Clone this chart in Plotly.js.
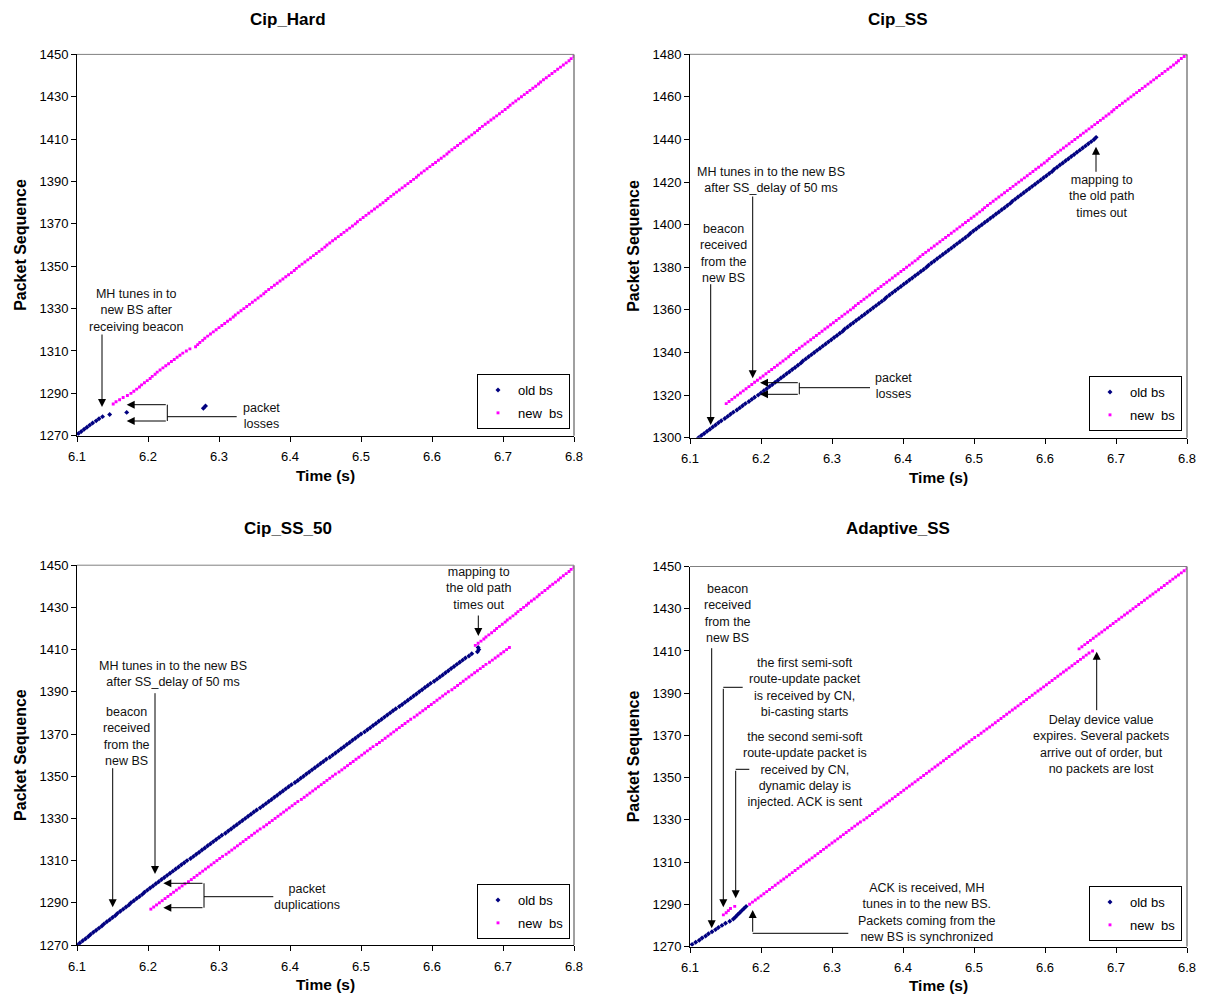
<!DOCTYPE html>
<html>
<head>
<meta charset="utf-8">
<script src="https://cdn.plot.ly/plotly-3.0.1.min.js"></script>
<style>html,body{margin:0;padding:0;background:#fff;}#chart{width:1210px;height:996px;}</style>
</head>
<body>
<div id="chart"></div>
<script>
// ---------------- DATA ----------------
const seriesNames = ['old bs', 'new\u00A0 bs'];
const chartTitles = ['Cip_Hard', 'Cip_SS', 'Cip_SS_50', 'Adaptive_SS'];
const xTitle = 'Time (s)';
const yTitle = 'Packet Sequence';

// Cip_Hard
const hardOldTime = [6.102,6.106,6.110,6.114,6.118,6.122,6.127,6.131,6.136,6.146,6.170,6.278,6.281];
const hardOldSeq  = [1271,1272,1273,1274,1275,1276,1277,1278,1279,1280,1281,1283,1284];
const hardNewTime = [
6.151,6.155,6.160,6.165,6.171,6.176,6.180,6.184,6.188,6.191,
6.195,6.199,6.203,6.206,6.210,6.213,6.217,6.221,6.225,6.229,
6.233,6.237,6.241,6.245,6.249,6.254,6.259,6.267,6.270,6.273,
6.277,6.280,6.284,6.288,6.292,6.296,6.300,6.304,6.308,6.312,
6.316,6.320,6.323,6.327,6.331,6.335,6.339,6.343,6.347,6.351,
6.355,6.359,6.363,6.366,6.370,6.374,6.378,6.382,6.386,6.390,
6.394,6.398,6.402,6.406,6.409,6.413,6.417,6.421,6.425,6.429,
6.433,6.437,6.441,6.445,6.449,6.452,6.456,6.460,6.464,6.468,
6.472,6.476,6.480,6.484,6.488,6.492,6.495,6.499,6.503,6.507,
6.511,6.515,6.519,6.523,6.527,6.531,6.535,6.538,6.542,6.546,
6.550,6.554,6.558,6.562,6.566,6.570,6.574,6.578,6.581,6.585,
6.589,6.593,6.597,6.601,6.605,6.609,6.613,6.617,6.621,6.624,
6.628,6.632,6.636,6.640,6.644,6.648,6.652,6.656,6.660,6.664,
6.667,6.671,6.675,6.679,6.683,6.687,6.691,6.695,6.699,6.703,
6.707,6.710,6.714,6.718,6.722,6.726,6.730,6.734,6.738,6.742,
6.746,6.750,6.753,6.757,6.761,6.765,6.769,6.773,6.777,6.781,
6.785,6.789,6.793,6.796,6.800];
const hardNewSeq = [
1285,1286,1287,1288,1289,1290,1291,1292,1293,1294,
1295,1296,1297,1298,1299,1300,1301,1302,1303,1304,
1305,1306,1307,1308,1309,1310,1311,1312,1313,1314,
1315,1316,1317,1318,1319,1320,1321,1322,1323,1324,
1325,1326,1327,1328,1329,1330,1331,1332,1333,1334,
1335,1336,1337,1338,1339,1340,1341,1342,1343,1344,
1345,1346,1347,1348,1349,1350,1351,1352,1353,1354,
1355,1356,1357,1358,1359,1360,1361,1362,1363,1364,
1365,1366,1367,1368,1369,1370,1371,1372,1373,1374,
1375,1376,1377,1378,1379,1380,1381,1382,1383,1384,
1385,1386,1387,1388,1389,1390,1391,1392,1393,1394,
1395,1396,1397,1398,1399,1400,1401,1402,1403,1404,
1405,1406,1407,1408,1409,1410,1411,1412,1413,1414,
1415,1416,1417,1418,1419,1420,1421,1422,1423,1424,
1425,1426,1427,1428,1429,1430,1431,1432,1433,1434,
1435,1436,1437,1438,1439,1440,1441,1442,1443,1444,
1445,1446,1447,1448,1449];

// Cip_SS
const ssOldTime = [
6.112,6.116,6.120,6.124,6.128,6.132,6.136,6.140,6.144,6.149,
6.153,6.157,6.161,6.166,6.170,6.174,6.178,6.183,6.187,6.191,
6.196,6.200,6.204,6.208,6.212,6.216,6.220,6.224,6.228,6.232,
6.236,6.240,6.244,6.248,6.252,6.256,6.259,6.263,6.267,6.271,
6.275,6.279,6.283,6.287,6.291,6.295,6.299,6.303,6.307,6.311,
6.315,6.318,6.322,6.326,6.330,6.334,6.338,6.342,6.346,6.350,
6.354,6.358,6.362,6.366,6.370,6.374,6.377,6.381,6.385,6.389,
6.393,6.397,6.401,6.405,6.409,6.413,6.417,6.421,6.425,6.429,
6.433,6.436,6.440,6.444,6.448,6.452,6.456,6.460,6.464,6.468,
6.472,6.476,6.480,6.484,6.488,6.492,6.495,6.499,6.503,6.507,
6.511,6.515,6.519,6.523,6.527,6.531,6.535,6.539,6.543,6.547,
6.551,6.554,6.558,6.562,6.566,6.570,6.574,6.578,6.582,6.586,
6.590,6.594,6.598,6.602,6.606,6.610,6.613,6.617,6.621,6.625,
6.629,6.633,6.637,6.641,6.645,6.649,6.653,6.657,6.661,6.665,
6.669,6.672];
const ssOldSeq = [
1300,1301,1302,1303,1304,1305,1306,1307,1308,1309,
1310,1311,1312,1313,1314,1315,1316,1317,1318,1319,
1320,1321,1322,1323,1324,1325,1326,1327,1328,1329,
1330,1331,1332,1333,1334,1335,1336,1337,1338,1339,
1340,1341,1342,1343,1344,1345,1346,1347,1348,1349,
1350,1351,1352,1353,1354,1355,1356,1357,1358,1359,
1360,1361,1362,1363,1364,1365,1366,1367,1368,1369,
1370,1371,1372,1373,1374,1375,1376,1377,1378,1379,
1380,1381,1382,1383,1384,1385,1386,1387,1388,1389,
1390,1391,1392,1393,1394,1395,1396,1397,1398,1399,
1400,1401,1402,1403,1404,1405,1406,1407,1408,1409,
1410,1411,1412,1413,1414,1415,1416,1417,1418,1419,
1420,1421,1422,1423,1424,1425,1426,1427,1428,1429,
1430,1431,1432,1433,1434,1435,1436,1437,1438,1439,
1440,1441];
const ssNewTime = [
6.151,6.155,6.159,6.163,6.167,6.171,6.175,6.179,6.183,6.187,
6.191,6.195,6.199,6.203,6.207,6.211,6.215,6.219,6.223,6.227,
6.231,6.235,6.239,6.242,6.246,6.250,6.254,6.258,6.262,6.266,
6.270,6.274,6.278,6.282,6.286,6.290,6.294,6.298,6.302,6.306,
6.310,6.314,6.318,6.322,6.326,6.330,6.333,6.337,6.341,6.345,
6.349,6.353,6.357,6.361,6.365,6.369,6.373,6.377,6.381,6.385,
6.389,6.393,6.397,6.401,6.405,6.409,6.413,6.417,6.421,6.424,
6.428,6.432,6.436,6.440,6.444,6.448,6.452,6.456,6.460,6.464,
6.468,6.472,6.476,6.480,6.484,6.488,6.492,6.496,6.500,6.504,
6.508,6.512,6.515,6.519,6.523,6.527,6.531,6.535,6.539,6.543,
6.547,6.551,6.555,6.559,6.563,6.567,6.571,6.575,6.579,6.583,
6.587,6.591,6.595,6.599,6.603,6.606,6.610,6.614,6.618,6.622,
6.626,6.630,6.634,6.638,6.642,6.646,6.650,6.654,6.658,6.662,
6.666,6.670,6.674,6.678,6.682,6.686,6.690,6.694,6.697,6.701,
6.705,6.709,6.713,6.717,6.721,6.725,6.729,6.733,6.737,6.741,
6.745,6.749,6.753,6.757,6.761,6.765,6.769,6.773,6.777,6.781,
6.785,6.788,6.792,6.796,6.800];
const ssNewSeq = [
1316,1317,1318,1319,1320,1321,1322,1323,1324,1325,
1326,1327,1328,1329,1330,1331,1332,1333,1334,1335,
1336,1337,1338,1339,1340,1341,1342,1343,1344,1345,
1346,1347,1348,1349,1350,1351,1352,1353,1354,1355,
1356,1357,1358,1359,1360,1361,1362,1363,1364,1365,
1366,1367,1368,1369,1370,1371,1372,1373,1374,1375,
1376,1377,1378,1379,1380,1381,1382,1383,1384,1385,
1386,1387,1388,1389,1390,1391,1392,1393,1394,1395,
1396,1397,1398,1399,1400,1401,1402,1403,1404,1405,
1406,1407,1408,1409,1410,1411,1412,1413,1414,1415,
1416,1417,1418,1419,1420,1421,1422,1423,1424,1425,
1426,1427,1428,1429,1430,1431,1432,1433,1434,1435,
1436,1437,1438,1439,1440,1441,1442,1443,1444,1445,
1446,1447,1448,1449,1450,1451,1452,1453,1454,1455,
1456,1457,1458,1459,1460,1461,1462,1463,1464,1465,
1466,1467,1468,1469,1470,1471,1472,1473,1474,1475,
1476,1477,1478,1479,1480];

// Cip_SS_50
const ss50OldTime = [
6.100,6.104,6.108,6.112,6.116,6.119,6.123,6.127,6.131,6.135,
6.138,6.142,6.146,6.150,6.154,6.157,6.161,6.165,6.169,6.173,
6.176,6.180,6.184,6.188,6.192,6.195,6.199,6.203,6.207,6.211,
6.215,6.219,6.223,6.227,6.231,6.235,6.239,6.243,6.247,6.251,
6.255,6.260,6.264,6.268,6.272,6.276,6.280,6.284,6.288,6.292,
6.296,6.300,6.304,6.309,6.313,6.317,6.321,6.325,6.329,6.333,
6.337,6.341,6.345,6.349,6.353,6.358,6.362,6.366,6.370,6.374,
6.378,6.382,6.386,6.390,6.394,6.398,6.402,6.407,6.411,6.415,
6.419,6.423,6.427,6.431,6.435,6.439,6.443,6.447,6.451,6.456,
6.460,6.464,6.468,6.472,6.476,6.480,6.484,6.488,6.492,6.496,
6.500,6.505,6.509,6.513,6.517,6.521,6.525,6.529,6.533,6.537,
6.541,6.545,6.549,6.554,6.558,6.562,6.566,6.570,6.574,6.578,
6.582,6.586,6.590,6.594,6.598,6.603,6.607,6.611,6.615,6.619,
6.623,6.627,6.631,6.635,6.639,6.643,6.647,6.652,6.656,6.664,
6.666,6.665];
const ss50OldSeq = [
1270,1271,1272,1273,1274,1275,1276,1277,1278,1279,
1280,1281,1282,1283,1284,1285,1286,1287,1288,1289,
1290,1291,1292,1293,1294,1295,1296,1297,1298,1299,
1300,1301,1302,1303,1304,1305,1306,1307,1308,1309,
1310,1311,1312,1313,1314,1315,1316,1317,1318,1319,
1320,1321,1322,1323,1324,1325,1326,1327,1328,1329,
1330,1331,1332,1333,1334,1335,1336,1337,1338,1339,
1340,1341,1342,1343,1344,1345,1346,1347,1348,1349,
1350,1351,1352,1353,1354,1355,1356,1357,1358,1359,
1360,1361,1362,1363,1364,1365,1366,1367,1368,1369,
1370,1371,1372,1373,1374,1375,1376,1377,1378,1379,
1380,1381,1382,1383,1384,1385,1386,1387,1388,1389,
1390,1391,1392,1393,1394,1395,1396,1397,1398,1399,
1400,1401,1402,1403,1404,1405,1406,1407,1408,1409,
1410,1411];
const ss50NewTime = [
6.204,6.208,6.212,6.216,6.220,6.224,6.228,6.232,6.236,6.240,
6.244,6.248,6.252,6.257,6.261,6.265,6.269,6.273,6.277,6.281,
6.285,6.289,6.293,6.297,6.301,6.305,6.310,6.314,6.318,6.322,
6.326,6.330,6.334,6.338,6.342,6.346,6.350,6.354,6.358,6.363,
6.367,6.371,6.375,6.379,6.383,6.387,6.391,6.395,6.399,6.403,
6.407,6.411,6.416,6.420,6.424,6.428,6.432,6.436,6.440,6.444,
6.448,6.452,6.456,6.460,6.464,6.469,6.473,6.477,6.481,6.485,
6.489,6.493,6.497,6.501,6.505,6.509,6.513,6.517,6.522,6.526,
6.530,6.534,6.538,6.542,6.546,6.550,6.554,6.558,6.562,6.566,
6.570,6.575,6.579,6.583,6.587,6.591,6.595,6.599,6.603,6.607,
6.611,6.615,6.619,6.623,6.628,6.632,6.636,6.640,6.644,6.648,
6.652,6.656,6.660,6.664,6.668,6.672,6.676,6.681,6.685,6.689,
6.693,6.697,6.701,6.705,6.709,
6.661,6.665,6.669,6.673,6.676,6.680,6.684,6.688,6.691,6.695,
6.699,6.703,6.706,6.710,6.714,6.718,6.721,6.725,6.729,6.733,
6.736,6.740,6.744,6.748,6.751,6.755,6.759,6.763,6.766,6.770,
6.774,6.778,6.781,6.785,6.789,6.793,6.796,6.800];
const ss50NewSeq = [
1287,1288,1289,1290,1291,1292,1293,1294,1295,1296,
1297,1298,1299,1300,1301,1302,1303,1304,1305,1306,
1307,1308,1309,1310,1311,1312,1313,1314,1315,1316,
1317,1318,1319,1320,1321,1322,1323,1324,1325,1326,
1327,1328,1329,1330,1331,1332,1333,1334,1335,1336,
1337,1338,1339,1340,1341,1342,1343,1344,1345,1346,
1347,1348,1349,1350,1351,1352,1353,1354,1355,1356,
1357,1358,1359,1360,1361,1362,1363,1364,1365,1366,
1367,1368,1369,1370,1371,1372,1373,1374,1375,1376,
1377,1378,1379,1380,1381,1382,1383,1384,1385,1386,
1387,1388,1389,1390,1391,1392,1393,1394,1395,1396,
1397,1398,1399,1400,1401,1402,1403,1404,1405,1406,
1407,1408,1409,1410,1411,
1412,1413,1414,1415,1416,1417,1418,1419,1420,1421,
1422,1423,1424,1425,1426,1427,1428,1429,1430,1431,
1432,1433,1434,1435,1436,1437,1438,1439,1440,1441,
1442,1443,1444,1445,1446,1447,1448,1449];

// Adaptive_SS
const adOldTime = [6.103,6.108,6.113,6.117,6.122,6.126,6.131,6.136,6.140,6.145,
6.150,6.156,6.161,6.164,6.167,6.170,6.173,6.176,6.179];
const adOldSeq = [1271,1272,1273,1274,1275,1276,1277,1278,1279,1280,
1281,1282,1283,1284,1285,1286,1287,1288,1289];
const adNewTime = [
6.147,6.151,6.154,6.157,6.163,6.184,6.188,6.192,6.196,6.200,
6.204,6.208,6.212,6.216,6.220,6.224,6.228,6.232,6.236,6.240,
6.244,6.248,6.252,6.256,6.260,6.264,6.268,6.272,6.276,6.280,
6.284,6.288,6.292,6.296,6.300,6.304,6.308,6.312,6.316,6.320,
6.324,6.328,6.332,6.336,6.340,6.345,6.349,6.353,6.357,6.361,
6.365,6.369,6.373,6.377,6.381,6.385,6.389,6.393,6.397,6.401,
6.405,6.409,6.413,6.417,6.421,6.425,6.429,6.433,6.437,6.441,
6.445,6.449,6.453,6.457,6.461,6.465,6.469,6.473,6.477,6.481,
6.485,6.489,6.493,6.497,6.501,6.506,6.510,6.514,6.518,6.522,
6.526,6.530,6.534,6.538,6.542,6.546,6.550,6.554,6.558,6.562,
6.566,6.570,6.574,6.578,6.582,6.586,6.590,6.594,6.598,6.602,
6.606,6.610,6.614,6.618,6.622,6.626,6.630,6.634,6.638,6.642,
6.646,6.650,6.654,6.658,6.662,6.667,
6.648,6.652,6.656,6.660,6.664,6.668,6.672,6.676,6.680,6.684,
6.688,6.692,6.696,6.700,6.704,6.708,6.712,6.716,6.720,6.724,
6.728,6.732,6.736,6.740,6.744,6.748,6.752,6.756,6.760,6.764,
6.768,6.772,6.776,6.780,6.784,6.788,6.792,6.796,6.800];
const adNewSeq = [
1285,1286,1287,1288,1289,1290,1291,1292,1293,1294,
1295,1296,1297,1298,1299,1300,1301,1302,1303,1304,
1305,1306,1307,1308,1309,1310,1311,1312,1313,1314,
1315,1316,1317,1318,1319,1320,1321,1322,1323,1324,
1325,1326,1327,1328,1329,1330,1331,1332,1333,1334,
1335,1336,1337,1338,1339,1340,1341,1342,1343,1344,
1345,1346,1347,1348,1349,1350,1351,1352,1353,1354,
1355,1356,1357,1358,1359,1360,1361,1362,1363,1364,
1365,1366,1367,1368,1369,1370,1371,1372,1373,1374,
1375,1376,1377,1378,1379,1380,1381,1382,1383,1384,
1385,1386,1387,1388,1389,1390,1391,1392,1393,1394,
1395,1396,1397,1398,1399,1400,1401,1402,1403,1404,
1405,1406,1407,1408,1409,1410,
1411,1412,1413,1414,1415,1416,1417,1418,1419,1420,
1421,1422,1423,1424,1425,1426,1427,1428,1429,1430,
1431,1432,1433,1434,1435,1436,1437,1438,1439,1440,
1441,1442,1443,1444,1445,1446,1447,1448,1449];

const yRanges = [[1270,1450],[1300,1480],[1270,1450],[1270,1450]];
const xRange = [6.1, 6.8];

// ---------------- LAYOUT HELPERS ----------------
const W = 1210, H = 996;
const FONT = 'Arial, "Liberation Sans", sans-serif';
const OLD_COLOR = '#000080', NEW_COLOR = '#FF00FF';
const px = v => v / W;
const py = v => 1 - v / H;

// plot areas in pixels: [left, right, top, bottom]
const areas = [[77, 574, 54.4, 435.7], [690, 1187, 54.3, 437.7], [77, 574, 565.2, 945], [690, 1187, 566.5, 946.5]];
const legendPos = [[570, 429], [1182, 431], [570, 939], [1182, 941]];
const titlePos = [[288, 19], [898, 19], [288, 528], [898, 528]];

const oldData = [[hardOldTime, hardOldSeq], [ssOldTime, ssOldSeq], [ss50OldTime, ss50OldSeq], [adOldTime, adOldSeq]];
const newData = [[hardNewTime, hardNewSeq], [ssNewTime, ssNewSeq], [ss50NewTime, ss50NewSeq], [adNewTime, adNewSeq]];

const traces = [];
const layout = {
  width: W, height: H,
  margin: {l: 0, r: 0, t: 0, b: 0},
  paper_bgcolor: '#fff', plot_bgcolor: '#fff',
  font: {family: FONT, size: 13, color: '#000'},
  showlegend: true,
  annotations: [], shapes: []
};

for (let i = 0; i < 4; i++) {
  const n = i === 0 ? '' : String(i + 1);
  const xa = 'x' + n, ya = 'y' + n;
  const leg = 'legend' + n;
  const a = areas[i];
  traces.push({
    type: 'scatter', mode: 'markers', x: oldData[i][0], y: oldData[i][1],
    name: seriesNames[0], xaxis: xa, yaxis: ya, legend: leg, legendgroup: 'o' + i,
    marker: {color: OLD_COLOR, symbol: 'diamond', size: 3.8, line: {width: 0}}
  });
  traces.push({
    type: 'scatter', mode: 'markers', x: newData[i][0], y: newData[i][1],
    name: seriesNames[1], xaxis: xa, yaxis: ya, legend: leg, legendgroup: 'n' + i,
    marker: {color: NEW_COLOR, symbol: 'square', size: 2.9, line: {width: 0}}
  });
  layout['xaxis' + n] = {
    domain: [px(a[0]), px(a[1])], anchor: ya, range: xRange, dtick: 0.1, tick0: 6.1,
    tickformat: '.1f', showgrid: false, zeroline: false, showline: true,
    linecolor: '#000', linewidth: 1, ticks: 'outside', ticklen: 5, tickcolor: '#000',
    ticklabelstandoff: 4,
    tickfont: {family: FONT, size: 13, color: '#000'},
    title: {text: xTitle, font: {family: FONT, size: 15.5, weight: 'bold', color: '#000'}, standoff: 6}
  };
  layout['yaxis' + n] = {
    domain: [py(a[3]), py(a[2])], anchor: xa, range: yRanges[i], dtick: 20, tick0: yRanges[i][0],
    showgrid: false, zeroline: false, showline: true,
    linecolor: '#000', linewidth: 1, ticks: 'outside', ticklen: 5, tickcolor: '#000',
    tickfont: {family: FONT, size: 13, color: '#000'},
    title: {text: yTitle, font: {family: FONT, size: 16, weight: 'bold', color: '#000'}, standoff: 8}
  };
  layout[leg] = {
    x: px(legendPos[i][0]), y: py(legendPos[i][1]), xanchor: 'right', yanchor: 'bottom',
    bgcolor: '#fff', bordercolor: '#000', borderwidth: 1,
    font: {family: FONT, size: 13, color: '#000'}, tracegroupgap: 3, itemwidth: 30
  };
  // gray plot-area frame (top and right)
  layout.shapes.push({type: 'line', xref: xa + ' domain', yref: ya + ' domain', x0: 0, x1: 1, y0: 1, y1: 1, line: {color: '#808080', width: 1}});
  layout.shapes.push({type: 'line', xref: xa + ' domain', yref: ya + ' domain', x0: 1, x1: 1, y0: 0, y1: 1, line: {color: '#808080', width: 1.5}});
  // chart title
  layout.annotations.push({xref: 'paper', yref: 'paper', x: px(titlePos[i][0]), y: py(titlePos[i][1]),
    text: chartTitles[i], showarrow: false, xanchor: 'center', yanchor: 'middle',
    font: {family: FONT, size: 17, weight: 'bold', color: '#000'}});
}

function note(text, x, y) {
  layout.annotations.push({xref: 'paper', yref: 'paper', x: px(x), y: py(y), text: text,
    showarrow: false, xanchor: 'center', yanchor: 'middle', align: 'center',
    font: {family: FONT, size: 12.5, color: '#111'}});
}
function arrow(tipX, tipY, tailX, tailY) {
  layout.annotations.push({xref: 'paper', yref: 'paper', x: px(tipX), y: py(tipY), text: '',
    showarrow: true, ax: tailX - tipX, ay: tailY - tipY, axref: 'pixel', ayref: 'pixel',
    arrowhead: 2, arrowsize: 1.6, arrowwidth: 1, arrowcolor: '#000', standoff: 0, startstandoff: 0});
}
function seg(x0, y0, x1, y1) {
  layout.shapes.push({type: 'line', xref: 'paper', yref: 'paper', x0: px(x0), y0: py(y0), x1: px(x1), y1: py(y1),
    line: {color: '#000', width: 1}});
}

// Cip_Hard annotations
note('MH tunes in to<br>new BS after<br>receiving beacon', 136, 310);
arrow(102, 407, 102, 333);
arrow(126.7, 404.7, 167.3, 404.7);
arrow(126.7, 421, 167.3, 421);
seg(167.3, 404.7, 167.3, 421);
seg(167.3, 416.7, 236.7, 416.7);
note('packet<br>losses', 261, 416);

// Cip_SS annotations
note('MH tunes in to the new BS<br>after SS_delay of 50 ms', 770.7, 179.5);
arrow(752.7, 378.3, 752.7, 195);
note('beacon<br>received<br>from the<br>new BS', 723.3, 253);
arrow(710.7, 425, 710.7, 282.7);
arrow(760, 382.7, 799.3, 382.7);
arrow(760, 394.3, 799.3, 394.3);
seg(799.3, 382.7, 799.3, 394.3);
seg(799.3, 387.7, 870, 387.7);
note('packet<br>losses', 893.3, 386);
note('mapping to<br>the old path<br>times out', 1101.7, 196.5);
arrow(1096, 146.7, 1096, 173.3);

// Cip_SS_50 annotations
note('MH tunes in to the new BS<br>after SS_delay of 50 ms', 172.7, 674);
arrow(155, 874, 155, 691.7);
note('beacon<br>received<br>from the<br>new BS', 126.7, 736.3);
arrow(112.7, 907.3, 112.7, 766.7);
arrow(163.3, 883.3, 204, 883.3);
arrow(163.3, 907.7, 204, 907.7);
seg(204, 883.3, 204, 907.7);
seg(204, 896.7, 273.3, 896.7);
note('packet<br>duplications', 307, 896.5);
note('mapping to<br>the old path<br>times out', 478.3, 588.5);
arrow(478.3, 636, 478.3, 614);

// Adaptive_SS annotations
note('beacon<br>received<br>from the<br>new BS', 727.7, 613.5);
arrow(711.7, 928.3, 711.7, 646.7);
note('the first semi-soft<br>route-update packet<br>is received by CN,<br>bi-casting starts', 805, 687);
seg(742.7, 687.3, 723.3, 687.3);
arrow(723.3, 907.3, 723.3, 687.3);
note('the second semi-soft<br>route-update packet is<br>received by CN,<br>dynamic delay is<br>injected. ACK is sent', 805, 769.3);
seg(749.3, 769.3, 735.7, 769.3);
arrow(735.7, 898.3, 735.7, 769.3);
note('ACK is received, MH<br>tunes in to the new BS.<br>Packets coming from the<br>new BS is synchronized', 927, 912.5);
arrow(752.7, 910, 752.7, 933.3);
seg(752.7, 933.3, 848.3, 933.3);
note('Delay device value<br>expires. Several packets<br>arrive out of order, but<br>no packets are lost', 1101, 744.5);
arrow(1096.7, 651.7, 1096.7, 711.7);

Plotly.newPlot('chart', traces, layout, {staticPlot: true, displayModeBar: false});
</script>
</body>
</html>
